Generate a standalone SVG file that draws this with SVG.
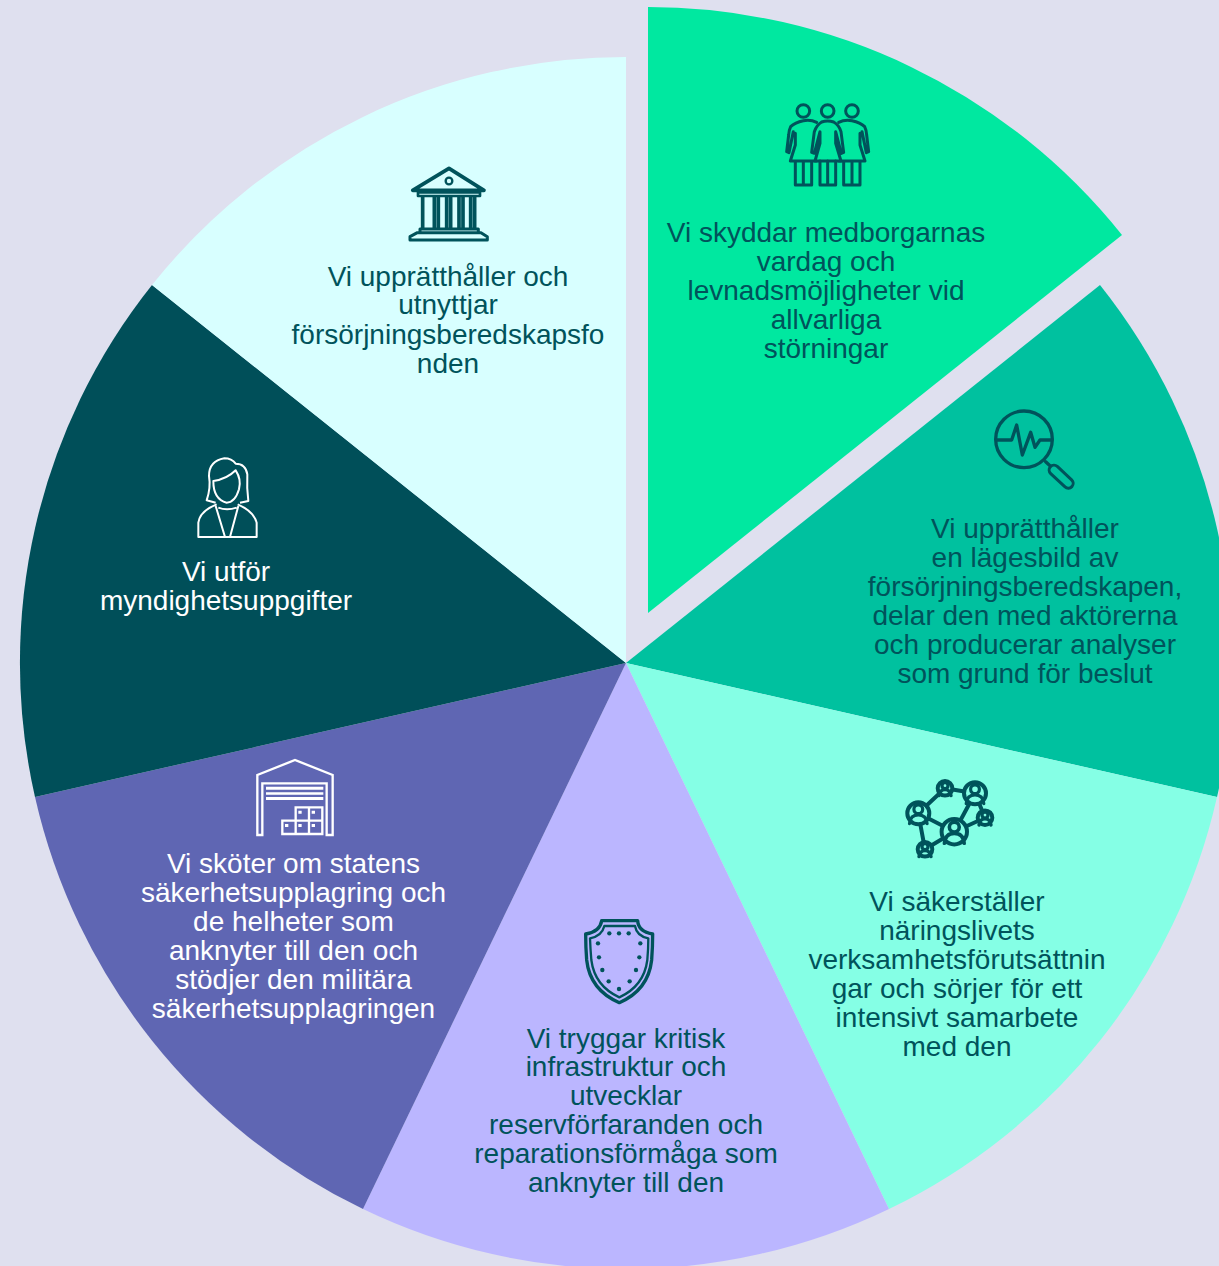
<svg xmlns="http://www.w3.org/2000/svg" width="1219" height="1266" viewBox="0 0 1219 1266">
<style>
text{font-family:"Liberation Sans",Arial,sans-serif;font-size:28px;text-anchor:middle}
.d{fill:#00535b}.w{fill:#fff}
.i{fill:none;stroke:#00535b;stroke-width:10;stroke-linejoin:round;stroke-linecap:round}
.iw{fill:none;stroke:#fff;stroke-width:7;stroke-linejoin:miter}
</style>
<defs>
<g id="side"><circle cx="0" cy="63" r="19"/><path d="M40 97Q22 88 0 92Q-25 97 -38 110Q-43 120 -44 135L-50 185L-43 188L-30 125M-24 130V165L-39 213H39M-24 213V285H25V213M0 213V285"/></g>
<g id="pers"><circle cx="0" cy="-6" r="5.5"/><path d="M-11 12Q-10 1 0 1Q10 1 11 12"/></g>
</defs>
<rect width="1219" height="1266" fill="#dfe0ef"/>
<g id="slices">
<path id="s1" d="M648 613V7A606 606 0 0 1 1122 235Z" fill="#00e8a0"/>
<path id="s2" d="M626 663L1100 285A606 606 0 0 1 1217 797Z" fill="#00c19f"/>
<path id="s3" d="M626 663L1217 797A606 606 0 0 1 889 1209Z" fill="#85ffe5"/>
<path id="s4" d="M626 663L889 1209A606 606 0 0 1 363 1209Z" fill="#bbb6ff"/>
<path id="s5" d="M626 663L363 1209A606 606 0 0 1 35 797Z" fill="#5f66b3"/>
<path id="s6" d="M626 663L35 797A606 606 0 0 1 152 285Z" fill="#004f59"/>
<path id="s7" d="M626 663L152 285A606 606 0 0 1 626 57Z" fill="#d8ffff"/>
</g>
<g id="node1">
<g transform="translate(770 90) scale(.3333)" class="i" style="stroke-width:9">
<use href="#side" x="100"/>
<use href="#side" transform="translate(246 0) scale(-1 1)"/>
<circle cx="173" cy="63" r="19"/>
<path style="fill:#00e8a0" d="M125 187L133 125Q140 105 155 96Q173 90 191 96Q207 105 213 125L221 187L214 190L197 125V160L213 213H135L150 160V125L133 190Z"/>
<path d="M150 213V285H197V213M173 213V285"/>
</g>
<text class="d"><tspan x="826" y="242">Vi skyddar medborgarnas</tspan><tspan x="826" y="271">vardag och</tspan><tspan x="826" y="300">levnadsmöjligheter vid</tspan><tspan x="826" y="329">allvarliga</tspan><tspan x="826" y="358">störningar</tspan></text>
</g>
<g id="node2">
<g transform="translate(980 400) scale(.3333)" class="i">
<circle cx="132" cy="118" r="85"/>
<path d="M50 120H95L110 75L127 165L152 97L165 142L180 120H215M197 185L210 197"/>
<path d="M222 210L265 250" style="stroke-width:38"/>
<path d="M222 210L265 250" style="stroke-width:20;stroke:#00c19f"/>
</g>
<text class="d"><tspan x="1025" y="538">Vi upprätthåller</tspan><tspan x="1025" y="567">en lägesbild av</tspan><tspan x="1025" y="596">försörjningsberedskapen,</tspan><tspan x="1025" y="625">delar den med aktörerna</tspan><tspan x="1025" y="654">och producerar analyser</tspan><tspan x="1025" y="683">som grund för beslut</tspan></text>
</g>
<g id="node3">
<g class="i" style="stroke-width:4">
<path d="M945 788.3L975 793.3M945 788.3L918.3 813.3M918.3 813.3L954.3 831.7M918.3 813.3L925 849.3M925 849.3L954.3 831.7M975 793.3L954.3 831.7M975 793.3L985 817.7M985 817.7L954.3 831.7"/>
<g style="fill:#85ffe5"><circle cx="945" cy="788.3" r="7.3"/><circle cx="975" cy="793.3" r="11"/><circle cx="918.3" cy="813.3" r="11"/><circle cx="954.3" cy="831.7" r="12.7"/><circle cx="985" cy="817.7" r="7.3"/><circle cx="925" cy="849.3" r="7.3"/></g>
<g style="stroke-width:6"><use href="#pers" transform="translate(945 789) scale(.55)"/><use href="#pers" transform="translate(985 818.4) scale(.55)"/><use href="#pers" transform="translate(925 850) scale(.55)"/></g>
<g style="stroke-width:4"><use href="#pers" transform="translate(975 794) scale(.8)"/><use href="#pers" transform="translate(918.3 814) scale(.8)"/></g>
<use href="#pers" transform="translate(954.3 832.5) scale(.9)"/>
</g>
<text class="d"><tspan x="957" y="911">Vi säkerställer</tspan><tspan x="957" y="940">näringslivets</tspan><tspan x="957" y="969">verksamhetsförutsättnin</tspan><tspan x="957" y="998">gar och sörjer för ett</tspan><tspan x="957" y="1027">intensivt samarbete</tspan><tspan x="957" y="1056">med den</tspan></text>
</g>
<g id="node4">
<g transform="translate(570 910) scale(.3333)">
<path class="i" d="M95 32H203Q205 65 248 72Q248 110 245 150Q235 240 148 278Q60 240 50 150Q47 110 47 72Q90 65 95 32Z"/>
<path class="i" style="stroke-width:7" d="M103 48H195Q200 78 235 85Q235 115 232 150Q222 228 148 262Q74 228 64 150Q61 115 60 85Q96 78 103 48Z"/>
<g class="d"><circle cx="118" cy="70" r="6.5"/><circle cx="147" cy="70" r="6.5"/><circle cx="176" cy="70" r="6.5"/><circle cx="84" cy="100" r="6.5"/><circle cx="211" cy="100" r="6.5"/><circle cx="87" cy="142" r="6.5"/><circle cx="208" cy="142" r="6.5"/><circle cx="97" cy="180" r="6.5"/><circle cx="198" cy="180" r="6.5"/><circle cx="116" cy="214" r="6.5"/><circle cx="179" cy="214" r="6.5"/><circle cx="147" cy="237" r="6.5"/></g>
</g>
<text class="d"><tspan x="626" y="1048">Vi tryggar kritisk</tspan><tspan x="626" y="1076">infrastruktur och</tspan><tspan x="626" y="1105">utvecklar</tspan><tspan x="626" y="1134">reservförfaranden och</tspan><tspan x="626" y="1163">reparationsförmåga som</tspan><tspan x="626" y="1192">anknyter till den</tspan></text>
</g>
<g id="node5">
<g transform="translate(245 750) scale(.3333)">
<path class="iw" d="M37 255V75L150 30L263 75V255H245V100H52V255Z"/>
<path class="w" d="M63 110H235V119H63ZM63 127H235V134H63ZM63 141H235V150H63Z"/>
<path class="iw" d="M112 212H232V252H112ZM152 172H232V252H152ZM192 172V252"/>
<path class="w" d="M160 182h10v9h-10zM200 182h10v9h-10zM120 222h10v9h-10zM160 222h10v9h-10zM200 222h10v9h-10z"/>
</g>
<text class="w"><tspan x="293.500" y="873">Vi sköter om statens</tspan><tspan x="293.500" y="902">säkerhetsupplagring och</tspan><tspan x="293.500" y="931">de helheter som</tspan><tspan x="293.500" y="960">anknyter till den och</tspan><tspan x="293.500" y="989">stödjer den militära</tspan><tspan x="293.500" y="1018">säkerhetsupplagringen</tspan></text>
</g>
<g id="node6">
<g transform="translate(185 451) scale(.3333)" class="iw" style="stroke-width:6;stroke-linejoin:round">
<path d="M92 155L65 148Q78 110 72 75Q72 30 118 22Q140 22 152 38Q182 38 187 70Q185 110 190 150L165 155"/>
<path d="M85 90Q125 85 152 58Q170 85 162 115Q150 155 125 155Q85 145 85 90Z"/>
<path d="M95 160Q45 180 40 215V258H215V215Q205 180 158 160"/>
<path d="M92 165L120 258M160 165L135 258M100 170Q125 180 155 170"/>
</g>
<text class="w"><tspan x="226" y="581">Vi utför</tspan><tspan x="226" y="610">myndighetsuppgifter</tspan></text>
</g>
<g id="node7">
<g transform="translate(400 160) scale(.3333)" class="i">
<path d="M147 25L252 91H38Z" style="stroke-width:11"/>
<circle cx="147" cy="63" r="10" style="stroke-width:7"/>
<path d="M54 97H240V108H54Z" style="stroke-width:8"/>
<path style="stroke-width:11;stroke-linecap:butt" d="M68 110V205M103 110V205M115 110V205M140 110V205M152 110V205M177 110V205M189 110V205M212 110V205M224 110V205"/>
<path style="stroke-width:9" d="M60 207H235V218H60ZM52 218H243L262 230V240H30V230Z"/>
</g>
<text class="d"><tspan x="448" y="286">Vi upprätthåller och</tspan><tspan x="448" y="314">utnyttjar</tspan><tspan x="448" y="344">försörjningsberedskapsfo</tspan><tspan x="448" y="373">nden</tspan></text>
</g>
</svg>
